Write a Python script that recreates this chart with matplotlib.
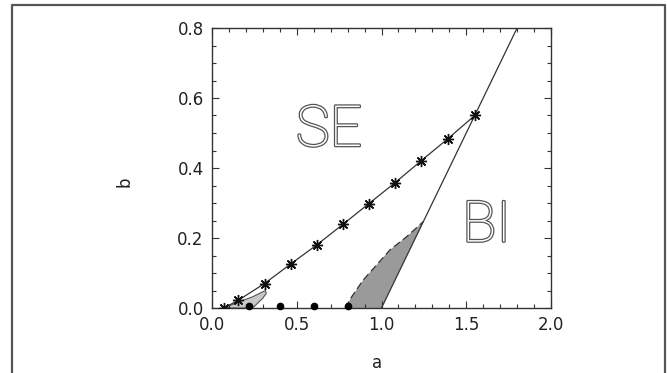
import matplotlib

matplotlib.use("Agg")
import matplotlib.pyplot as plt
import matplotlib.patheffects as pe
from matplotlib.lines import Line2D
from matplotlib.ticker import MultipleLocator

# star curve (SE / BI boundary)
star_a = [0.07, 0.155, 0.31, 0.465, 0.62, 0.775, 0.925, 1.08, 1.235, 1.39, 1.55]
star_b = [0.0, 0.022, 0.07, 0.126, 0.181, 0.24, 0.298, 0.358, 0.421, 0.483, 0.55]

# steep straight boundary
line_a = [1.0, 1.8]
line_b = [0.0, 0.8]

# dashed left edge of the dark shaded region
dash_a = [0.785, 0.824, 0.892, 0.971, 1.050, 1.149, 1.247]
dash_b = [0.0, 0.032, 0.08, 0.123, 0.166, 0.204, 0.247]

# small light region near the origin
light_a = [0.07, 0.155, 0.24, 0.29, 0.315, 0.32, 0.30, 0.27, 0.24]
light_b = [0.0, 0.017, 0.032, 0.044, 0.05, 0.042, 0.028, 0.014, 0.0]

# filled dots on the a axis
dot_a = [0.22, 0.40, 0.60, 0.80]
dot_b = [0.005, 0.005, 0.005, 0.005]

fig = plt.figure(figsize=(6.67, 3.73), dpi=100, facecolor="white")
ax = fig.add_axes([212 / 667, 1 - 308 / 373, 339 / 667, 280 / 373])

ink = "#333333"

# shaded regions
ax.fill(dash_a + [1.0], dash_b + [0.0], color="#9a9a9a", lw=0, zorder=1)
ax.fill(light_a, light_b, facecolor="#c8c8c8", edgecolor="#555555", lw=0.8, zorder=1)
ax.plot(dash_a, dash_b, color=ink, lw=0.9, ls=(0, (6, 3)), zorder=2)

ax.plot(line_a, line_b, color=ink, lw=0.9, zorder=2)
ax.plot(star_a, star_b, color=ink, lw=0.9, marker=(8, 2, 0), ms=8,
        mew=1.0, mec="#111111", zorder=3)
ax.plot(dot_a, dot_b, "o", color="black", ms=4.5, zorder=3, clip_on=False)

# hollow region labels
hollow = [pe.withStroke(linewidth=1.8, foreground="#555555")]
for txt, xa, yb in [("SE", 0.69, 0.507), ("BI", 1.62, 0.234)]:
    ax.text(xa, yb, txt, fontsize=41, color="white", ha="center", va="center",
            family="Roboto", weight="light", path_effects=hollow, zorder=4)

ax.set_xlim(0, 2.0)
ax.set_ylim(0, 0.8)
ax.xaxis.set_major_locator(MultipleLocator(0.5))
ax.xaxis.set_minor_locator(MultipleLocator(0.1))
ax.yaxis.set_major_locator(MultipleLocator(0.2))
ax.yaxis.set_minor_locator(MultipleLocator(0.05))
ax.xaxis.set_major_formatter(lambda v, p: f"{v:.1f}")
ax.yaxis.set_major_formatter(lambda v, p: f"{v:.1f}")
ax.tick_params(which="both", direction="in", top=True, right=True,
               colors=ink, labelcolor="#222222", width=0.8)
ax.tick_params(which="major", length=5, labelsize=12, pad=6)
ax.tick_params(which="minor", length=3)
for s in ax.spines.values():
    s.set_color(ink)
    s.set_linewidth(1.0)

ax.set_xlabel("a", fontsize=12, color="#222222", va="center")
ax.set_ylabel("b", fontsize=12, color="#222222", va="center")
ax.xaxis.set_label_coords(0.487, -0.196)
ax.yaxis.set_label_coords(-0.257, 0.45)

# outer frame (bottom edge falls off the picture)
fw = 1.6
fig.add_artist(Line2D([12 / 667, 12 / 667, 665 / 667, 665 / 667],
                      [0, 1 - 4.5 / 373, 1 - 4.5 / 373, 0],
                      transform=fig.transFigure, color="#555555", lw=fw))

fig.savefig("out.png", dpi=100, facecolor="white")
